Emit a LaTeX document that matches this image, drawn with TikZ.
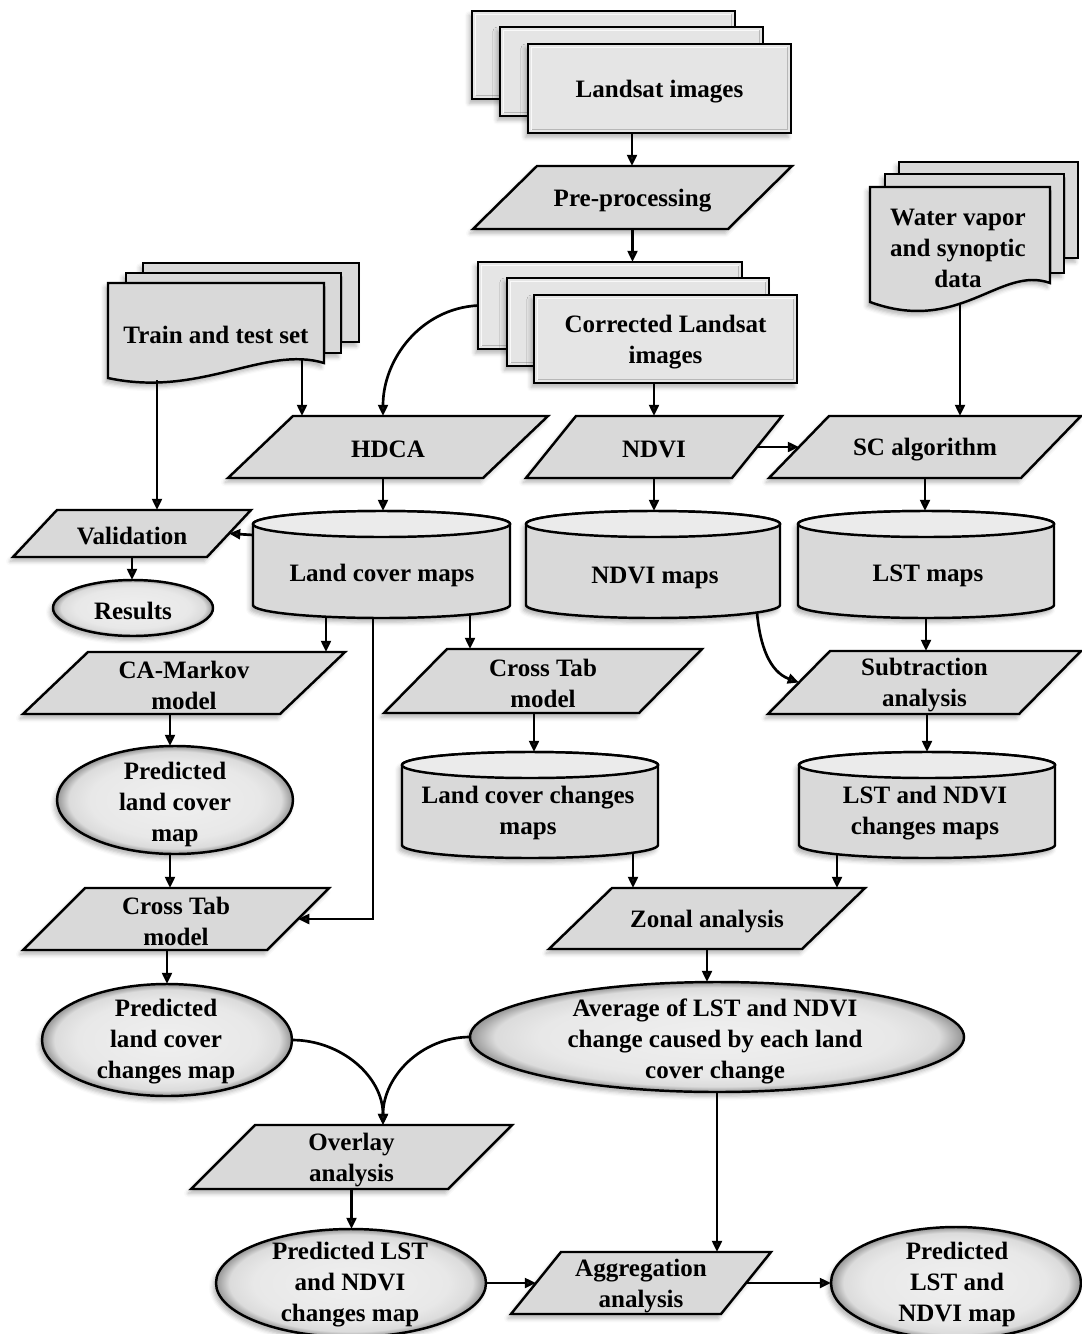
\documentclass[tikz,border=0pt]{standalone}
\usepackage{fontspec}
\setmainfont{Liberation Serif}
\usetikzlibrary{arrows.meta,shapes.geometric,shadows.blur,calc}
\pgfdeclareradialshading{rim}{\pgfpoint{0bp}{0bp}}{color(0bp)=(black!6); color(18bp)=(black!9); color(22.5bp)=(black!14); color(25bp)=(black!42); color(50bp)=(black!42)}
\tikzset{
  base/.style={draw=black, line width=1.75pt, line join=miter},
  shad/.style={blur shadow={shadow xshift=-2pt, shadow yshift=-3pt, shadow blur radius=3pt, shadow opacity=30}},
  pbox/.style={base, fill=black!15, shad},
  bevstyle/.style={base, fill=black!10, shad},
  flatstyle/.style={base, fill=black!15, shad},
  docstyle/.style={base, fill=black!15, shad},
  cylbody/.style={base, fill=black!15, shad},
  cyltop/.style={base, fill=black!8},
  ell/.style={shape=ellipse, base, shade, shading=rim, shad, inner sep=0pt, outer sep=0pt},
  txt/.style={font=\fontsize{17.8}{22}\selectfont\bfseries, align=center, inner sep=0pt, outer sep=0pt, yshift=-2pt},
  hold/.style={inner sep=0pt, outer sep=0pt},
  arr/.style={line width=1.9pt, -{Triangle[length=8pt,width=7pt]}},
}
% parallelogram: name, x bottom-left, y top, y bottom, edge length, slant, text
\newcommand\mypara[7]{%
  \draw[pbox] (#2,-#4) -- ++(#5,0) -- ++(#6,#4-#3) -- ++(-#5,0) -- cycle;
  \node[hold, minimum height={(#4-#3)*0.025cm}, minimum width={(#5-#6)*0.025cm}] (#1) at ({#2+(#5+#6)/2},{-(#3+#4)/2}) {};
  \node[txt] (#1-t) at (#1.center) {#7};
  \coordinate (#1-l) at ({#2+#6/2},{-(#3+#4)/2});
  \coordinate (#1-r) at ({#2+#5+#6/2},{-(#3+#4)/2});
}
% bevelled page: name, xl, yt, xr, yb, text
\newcommand\mybev[6]{%
  \draw[bevstyle] (#2,-#3) rectangle (#4,-#5);
  \draw[white, line width=1.3pt, opacity=.8] (#2+3.5,-#5+3.5) -- (#2+3.5,-#3-3.5) -- (#4-3.5,-#3-3.5);
  \draw[black!40, line width=1.3pt, opacity=.6] (#4-3.5,-#3-3.5) -- (#4-3.5,-#5+3.5) -- (#2+3.5,-#5+3.5);
  \node[hold, minimum width={(#4-#2)*0.025cm}, minimum height={(#5-#3)*0.025cm}] (#1) at ({(#2+#4)/2},{-(#3+#5)/2}) {};
  \node[txt] (#1-t) at (#1.center) {#6};
}
% flat page: name, xl, yt, xr, yb
\newcommand\myflat[5]{%
  \draw[flatstyle] (#2,-#3) rectangle (#4,-#5);
  \node[hold, minimum width={(#4-#2)*0.025cm}, minimum height={(#5-#3)*0.025cm}] (#1) at ({(#2+#4)/2},{-(#3+#5)/2}) {};
}
% cylinder: name, xl, ytop, ybot, xr, text x, text y, text
\newcommand\mycyl[8]{%
  \draw[cylbody] (#2,{-#3-13}) -- (#2,{-#4+13}) arc[start angle=180,end angle=360,x radius={(#5-#2)/2},y radius=13] -- (#5,{-#3-13}) arc[start angle=0,end angle=180,x radius={(#5-#2)/2},y radius=13] -- cycle;
  \draw[cyltop] ({(#2+#5)/2},{-#3-13}) ellipse[x radius={(#5-#2)/2}, y radius=13];
  \node[hold, minimum width={(#5-#2)*0.025cm}, minimum height={(#4-#3)*0.025cm}] (#1) at ({(#2+#5)/2},{-(#3+#4)/2}) {};
  \node[txt] (#1-t) at (#6,-#7) {#8};
}
% ellipse: name, cx, cy, rx, ry, text x, text y, text
\newcommand\myell[8]{%
  \node[ell, minimum width={2*#4*0.025cm}, minimum height={2*#5*0.025cm}] (#1) at (#2,-#3) {};
  \node[txt] (#1-t) at (#6,-#7) {#8};
}
\begin{document}
\begin{tikzpicture}[x=0.025cm, y=0.025cm]
\useasboundingbox (0,0) rectangle (1081,-1334);
% guide coordinates
\coordinate (g170) at (170,0);
\coordinate (g326) at (326,0);
\coordinate (g373) at (373,0);
\coordinate (g383) at (383,0);
\coordinate (g470) at (470,0);
\coordinate (g534) at (534,0);
\coordinate (g632) at (632,0);
\coordinate (g633) at (633,0);
\coordinate (g757) at (757,0);
\coordinate (g837) at (837,0);
\coordinate (h535) at (0,-535);

% Landsat images stack
\mybev{ls1}{472}{11}{735}{99}{}
\mybev{ls2}{500}{27}{763}{116}{}
\mybev{ls}{528}{44}{791}{133}{Landsat images}
\mypara{pre}{473}{166}{229}{255}{64}{Pre-processing}
% corrected stack
\mybev{cl1}{478}{262}{742}{349}{}
\mybev{cl2}{507}{278}{769}{366}{}
\mybev{cl}{534}{295}{797}{383}{Corrected Landsat\\images}
% train and test set
\myflat{tr1}{143}{263}{359}{342}
\myflat{tr2}{126}{273}{341}{353}
\draw[docstyle] (108,-283) -- (324,-283) -- (324,-363) .. controls (265,-345) and (200,-398) .. (108,-378) -- cycle;
\node[txt] (tr) at (216,-332) {Train and test set};
\coordinate (trA) at (157,-380);
\coordinate (trB) at (302,-359);
% water vapor
\myflat{wv1}{899}{162}{1078}{258}
\myflat{wv2}{885}{174}{1064}{273}
\draw[docstyle] (870,-187) -- (1050,-187) -- (1050,-283) .. controls (1000,-265) and (960,-335) .. (870,-302) -- cycle;
\node[txt] (wv) at (958,-246) {Water vapor\\and synoptic\\data};
\coordinate (wvA) at (960,-303);

% row 4
\mypara{hdca}{228}{416}{478}{255}{65}{HDCA}
\mypara{ndvi}{526}{416}{478}{206}{50}{NDVI}
\mypara{sc}{769}{416}{478}{252}{60}{SC algorithm}
% row 5
\mypara{val}{13}{510}{557}{194}{44}{Validation}
\mycyl{lcm}{253}{511}{618}{510}{382}{573}{Land cover maps}
\mycyl{nm}{526}{511}{618}{780}{655}{575}{NDVI maps}
\mycyl{lstm}{798}{511}{618}{1054}{928}{573}{LST maps}
\myell{res}{133}{608}{80}{28}{133}{608}{Results}
% row 6
\mypara{cam}{23}{652}{714}{257}{65}{CA-Markov\\model}
\mypara{ctm}{384}{649}{713}{255}{63}{Cross Tab\\model}
\mypara{sub}{768}{651}{714}{251}{62}{Subtraction\\analysis}
% row 7
\myell{plc}{175}{800}{118}{54}{175}{802}{Predicted\\land cover\\map}
\mycyl{lcc}{402}{752}{858}{658}{528}{810}{Land cover changes\\maps}
\mycyl{lnc}{799}{752}{858}{1055}{925}{810}{LST and NDVI\\changes maps}
% row 8
\mypara{ctl}{23}{888}{950}{244}{62}{Cross Tab\\model}
\mypara{zon}{549}{888}{949}{253}{63}{Zonal analysis}
% row 9
\myell{plcc}{167}{1040}{125}{56}{166}{1039}{Predicted\\land cover\\changes map}
\myell{avg}{717}{1037}{247}{55}{715}{1039}{Average of LST and NDVI\\change caused by each land\\cover change}
% row 10
\mypara{ovl}{191}{1125}{1189}{257}{64}{Overlay\\analysis}
% row 11
\myell{plst}{351}{1283}{135}{54}{350}{1282}{Predicted LST\\and NDVI\\changes map}
\mypara{agg}{511}{1252}{1314}{210}{50}{Aggregation\\analysis}
\myell{pfin}{956}{1283}{125}{56}{957}{1282}{Predicted\\LST and\\NDVI map}

% connectors
\draw[arr] (ls.south -| g632) -- (pre.north -| g632);
\draw[arr] (pre.south) -- (pre.south |- cl1.north);
\draw[arr] (cl.south -| ndvi.north) -- (ndvi.north);
\draw[arr] (cl1.west) to[out=183,in=90] (hdca.north -| g383);
\draw[arr] (trA) -- (trA |- val.north);
\draw[arr] (trB) -- (trB |- hdca.north);
\draw[arr] (wvA) -- (wvA |- sc.north);
\draw[arr] (ndvi-r) -- (sc-l);
\draw[arr] (hdca.south -| g383) -- (lcm.north -| g383);
\draw[arr] (ndvi.south) -- (ndvi.south |- nm.north);
\draw[arr] (sc.south) -- (sc.south |- lstm.north);
\draw[arr] (lcm.west |- h535) -- (val-r);
\draw[arr] (val.south) -- (val.south |- res.north);
\draw[arr] ($(lcm.south -| g326)+(0,1)$) -- (cam.north -| g326);
\draw[arr] (lcm.south -| g373) |- (ctl-r);
\draw[arr] ($(lcm.south -| g470)+(0,3.5)$) -- (ctm.north -| g470);
\draw[arr] ($(nm.south -| g757)+(0,5.5)$) to[out=-85,in=160] (sub-l);
\draw[arr] (lstm.south) -- (lstm.south |- sub.north);
\draw[arr] (cam.south -| g170) -- (plc.north -| g170);
\draw[arr] (ctm.south -| g534) -- (lcc.north -| g534);
\draw[arr] (sub.south -| lnc.north) -- (lnc.north);
\draw[arr] (plc.south -| g170) -- (ctl.north -| g170);
\draw[arr] (plcc.north |- ctl.south) -- (plcc.north);
\draw[arr] ($(lcc.south -| g633)+(0,5.3)$) -- (zon.north -| g633);
\draw[arr] ($(lnc.south -| g837)+(0,3.8)$) -- (zon.north -| g837);
\draw[arr] (zon.south) -- (zon.south |- avg.north);
\draw[arr] (plcc.east) to[out=0,in=90] (ovl.north -| g383);
\draw[arr] (avg.west) to[out=180,in=90] (ovl.north -| g383);
\draw[arr] (ovl.south) -- (ovl.south |- plst.north);
\draw[arr] (avg.south) -- (avg.south |- agg.north);
\draw[arr] (plst.east) -- (agg-l);
\draw[arr] (agg-r) -- (pfin.west);
\end{tikzpicture}
\end{document}
